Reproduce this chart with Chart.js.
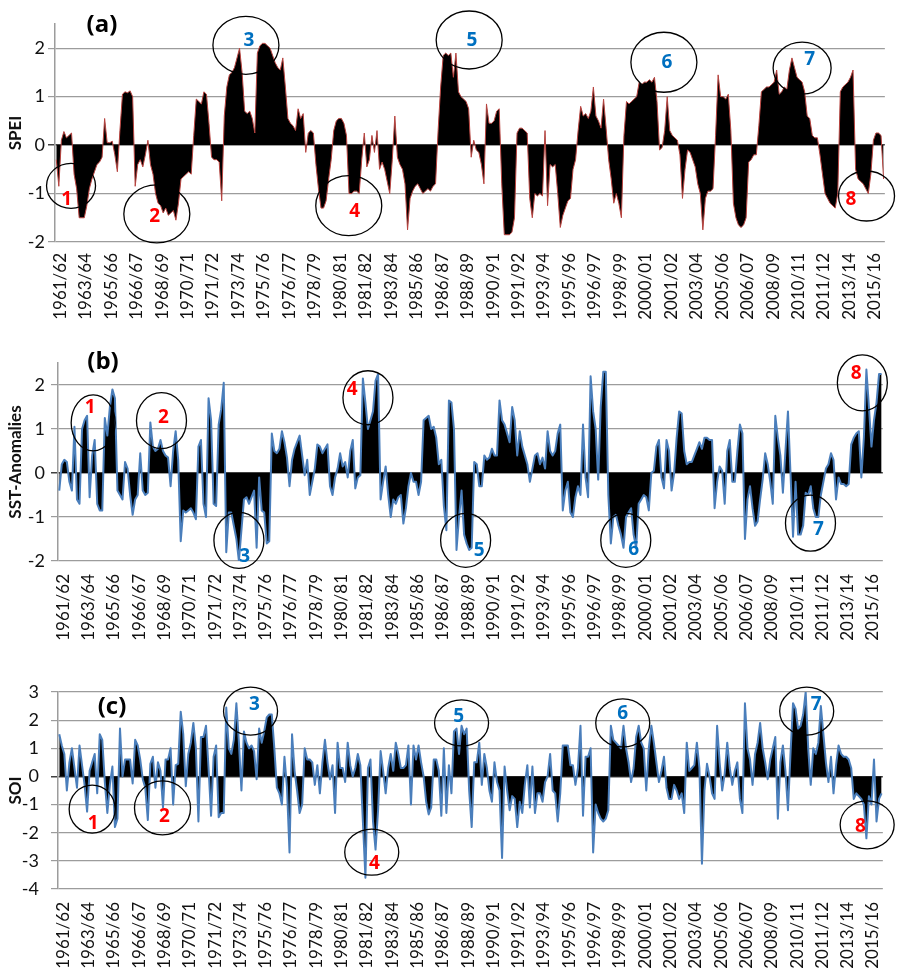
<!DOCTYPE html>
<html>
<head>
<meta charset="utf-8">
<script src="https://cdn.jsdelivr.net/npm/chart.js@4.4.1/dist/chart.umd.min.js"></script>
<style>
  html, body { margin: 0; padding: 0; background: #fff; }
  body { width: 915px; height: 973px; position: relative; overflow: hidden; }
  canvas { position: absolute; left: 0; }
</style>
</head>
<body>
<canvas id="panelA" width="915" height="326" style="top:0px"></canvas>
<canvas id="panelB" width="915" height="322" style="top:326px"></canvas>
<canvas id="panelC" width="915" height="325" style="top:648px"></canvas>
<script>
// Season labels shown on the time axis (one every ten bi-monthly steps)
const seasons = ['1961/62','1963/64','1965/66','1966/67','1968/69','1970/71','1971/72','1973/74',
  '1975/76','1976/77','1978/79','1980/81','1981/82','1983/84','1985/86','1986/87','1988/89',
  '1990/91','1991/92','1993/94','1995/96','1996/97','1998/99','2000/01','2001/02','2003/04',
  '2005/06','2006/07','2008/09','2010/11','2011/12','2013/14','2015/16'];

// (a) SPEI, bi-monthly steps
const spei = [
  -0.3,-0.85,0.1,0.28,0.15,0.2,0.25,-0.6,-0.9,-1.5,
  -1.5,-1.5,-1.25,-0.9,-0.7,-0.55,-0.4,-0.35,-0.25,0.55,
  0.05,0.05,0.08,-0.2,-0.55,0.3,1.05,1.1,1.08,1.12,
  1.0,-0.85,-0.4,-0.3,-0.45,-0.2,0.1,-0.4,-0.6,-1.0,
  -1.2,-1.25,-1.4,-1.3,-1.45,-1.4,-1.35,-1.55,-1.2,-0.7,
  -0.65,-0.6,-0.55,-0.6,0.2,0.95,0.9,0.85,1.1,1.05,
  0.45,-0.25,-0.3,-0.3,-0.35,-1.15,0.6,1.2,1.45,1.5,
  1.6,1.8,2.0,1.5,0.7,0.65,0.7,0.55,0.25,1.9,
  2.05,2.1,2.1,2.05,2.0,1.85,1.7,1.6,1.55,1.8,
  1.2,0.55,0.45,0.4,0.3,0.75,0.55,0.65,-0.15,0.25,
  0.3,0.25,-0.4,-0.9,-1.3,-1.3,-1.15,-0.7,-0.3,0.3,
  0.5,0.55,0.55,0.45,0.2,-1.0,-1.0,-0.95,-0.95,-1.0,
  -0.3,0.25,-0.45,-0.3,0.2,-0.15,0.3,-0.5,-0.35,-0.5,
  -0.75,-1.0,-0.3,0.6,-0.25,-0.4,-0.5,-0.8,-1.75,-1.1,
  -0.95,-0.85,-0.8,-0.9,-1.0,-0.95,-0.9,-0.95,-0.85,-0.8,
  0.3,1.2,1.85,1.9,1.85,1.9,1.4,1.9,1.1,1.0,
  0.95,0.9,0.75,-0.25,0.1,-0.1,-0.15,-0.4,-0.8,0.85,
  0.45,0.45,0.5,0.7,0.75,-0.8,-1.85,-1.85,-1.85,-1.8,
  -1.5,0.25,0.35,0.35,0.3,0.25,-1.1,-1.5,-1.0,-1.05,
  -1.0,-1.05,0.3,-1.25,-0.4,-0.45,-0.4,-1.0,-1.7,-1.45,
  -1.3,-1.15,-1.1,-0.5,-0.3,0.3,0.8,0.6,0.65,0.55,
  0.7,1.2,0.6,0.5,0.35,0.95,0.35,-0.3,-0.7,-1.2,
  -1.0,-1.2,-1.5,0.2,0.9,0.85,0.9,0.95,1.0,1.3,
  1.25,1.3,1.3,1.35,1.3,1.4,0.9,-0.1,-0.05,0.3,
  1.0,0.3,0.2,0.15,0.1,-0.2,-1.1,-0.5,-0.1,-0.15,
  -0.3,-0.45,-0.8,-1.0,-1.75,-1.1,-0.95,-0.95,-0.9,0.2,
  1.45,1.0,1.0,0.95,1.05,0.3,-1.2,-1.5,-1.65,-1.7,
  -1.65,-1.5,-0.35,-0.3,-0.2,-0.2,0.4,1.1,1.15,1.2,
  1.2,1.25,1.3,1.55,1.05,1.1,1.2,1.15,1.55,1.8,
  1.6,1.4,1.35,1.3,1.1,0.6,0.55,0.2,0.15,0.15,
  -0.2,-0.6,-1.0,-1.1,-1.2,-1.25,-1.3,-1.0,1.1,1.2,
  1.25,1.3,1.4,1.55,-0.5,-0.7,-0.75,-0.8,-0.9,-1.0,
  -0.6,0.1,0.25,0.25,0.2,-0.7
];

// (b) SST anomalies, bi-monthly steps
const sst = [
  -0.4,0.2,0.3,0.25,-0.2,-0.4,1.05,-0.6,-0.7,1.0,
  1.2,1.3,-0.55,0.4,0.75,-0.7,-0.85,-0.85,1.25,0.85,
  1.5,1.9,1.7,-0.4,-0.5,-0.6,0.25,0.1,-0.5,-0.95,
  -0.6,-0.5,0.45,-0.4,-0.5,-0.45,1.15,0.6,0.5,0.55,
  0.75,0.5,0.4,0.35,-0.3,0.5,0.95,0.3,-1.55,-0.85,
  -0.9,-0.85,-0.8,-0.9,-1.05,0.6,0.75,-0.7,-1.0,1.7,
  1.2,-0.7,-0.75,1.1,1.45,2.05,-1.8,-0.9,-0.9,-1.2,
  -1.5,-2.0,-1.3,-0.6,-0.55,-0.7,-0.55,-0.4,-1.7,-0.1,
  -0.85,-0.9,-1.6,-1.55,0.9,0.5,0.45,0.55,0.95,0.7,
  0.35,-0.3,0.3,0.55,0.7,0.85,0.4,-0.05,0.3,-0.5,
  -0.2,0.1,0.65,0.6,0.45,0.55,0.65,-0.3,-0.5,-0.1,
  0.1,0.45,0.15,0.25,-0.1,0.5,0.75,-0.35,-0.1,-0.05,
  2.15,1.6,1.0,1.2,1.4,2.1,2.25,-0.6,-0.2,0.15,
  -0.5,-1.0,-0.6,-0.7,-0.55,-0.5,-1.15,-0.8,-0.3,0.0,
  -0.2,-0.2,-0.5,-0.2,1.2,1.25,1.3,1.0,1.05,0.8,
  0.2,0.3,-0.75,-1.3,1.65,1.6,1.0,-1.75,-1.0,-0.4,
  -1.4,-1.6,-1.75,-1.7,0.25,0.2,-0.3,-0.3,0.4,0.3,
  0.35,0.55,0.4,0.4,1.65,1.2,1.1,0.9,0.7,1.5,
  1.2,0.4,0.95,0.6,0.4,0.2,-0.2,0.1,0.4,0.45,
  0.2,0.35,0.1,0.95,0.5,0.4,0.5,0.9,1.1,-0.85,
  -0.4,-0.2,-0.9,-1.0,-0.55,-0.3,-0.5,1.1,-0.1,-0.55,
  2.2,1.4,1.0,-0.15,1.5,2.3,2.3,-0.5,-1.6,-1.0,
  -0.95,-1.2,-1.4,-1.7,-1.0,-0.9,-0.8,-1.4,-1.7,-0.7,
  -0.6,-0.5,-0.55,-0.85,0.0,0.05,0.6,0.75,-0.1,-0.35,
  0.75,0.5,-0.4,0.0,0.8,1.4,1.35,0.5,0.2,0.25,
  0.25,0.4,0.55,0.7,0.55,0.8,0.8,0.75,0.75,-0.8,
  -0.2,0.15,0.05,-0.7,0.5,0.75,-0.2,-0.2,0.5,1.1,
  0.9,-1.5,-0.6,-0.3,-0.8,-1.2,-1.1,-0.6,-0.15,0.45,
  0.2,-0.2,-0.7,1.3,0.8,0.4,-0.45,0.5,1.4,0.0,
  -1.45,-0.2,-1.4,-1.4,-1.2,-0.45,-0.5,-0.3,-0.8,-1.0,
  -1.0,-0.5,-0.2,0.1,0.2,0.45,0.3,-0.6,-0.1,-0.25,
  -0.25,-0.3,-0.25,0.65,0.8,0.9,0.95,-0.1,0.8,2.35,
  1.5,0.6,1.2,1.6,2.25,2.25
];

// (c) SOI, bi-monthly steps
const soi = [
  1.5,1.1,0.8,-0.5,0.5,1.0,0.3,-0.4,1.1,0.4,
  -0.3,-1.25,0.2,0.5,0.8,-0.6,1.5,1.3,-0.2,-1.3,
  -0.3,0.35,-1.8,-1.5,1.7,0.0,0.6,0.6,0.6,-0.25,
  1.3,1.1,0.6,-0.1,-0.4,-1.55,0.45,0.7,-0.4,0.5,
  0.2,-1.1,0.6,0.6,1.0,-1.0,0.4,0.45,2.3,1.5,
  -0.35,0.8,1.2,1.9,1.0,-1.6,1.4,1.4,1.8,0.3,
  -1.4,0.7,1.1,-1.45,-1.3,-1.3,2.45,1.0,0.8,1.3,
  2.6,1.2,-0.5,1.6,1.2,1.0,1.1,0.9,-0.1,1.7,
  1.2,1.6,2.1,2.2,2.2,1.0,-0.4,-0.6,-1.0,0.7,
  -0.4,-2.7,1.5,0.2,-0.5,-1.3,-1.0,1.0,0.6,0.6,
  0.5,-0.3,0.4,-0.6,0.5,1.3,0.5,-0.1,0.4,-1.3,
  1.2,0.3,0.3,-0.2,1.2,0.4,0.0,0.3,0.8,0.4,
  -1.6,-3.6,0.3,0.6,-1.6,-2.6,-1.2,0.9,0.2,-0.6,
  0.3,0.8,0.2,1.2,0.8,0.3,0.3,0.4,1.1,-1.0,
  1.1,0.6,1.1,0.5,0.0,-0.9,-1.35,-1.1,0.6,0.6,
  0.2,-1.4,1.0,-1.3,0.4,-0.6,1.6,1.7,0.8,1.8,
  1.5,1.7,-0.5,-1.8,0.5,0.5,1.2,-0.3,0.8,0.3,
  -0.5,-0.9,0.5,-0.2,-0.5,-2.9,0.35,-0.5,-1.2,-0.7,
  -0.8,-1.8,-0.9,-1.3,-0.3,0.4,-1.1,0.35,-1.3,-0.6,
  -0.6,-0.9,-0.2,0.0,0.8,-0.5,-0.6,-1.6,-0.6,1.1,
  1.1,1.1,0.4,0.4,-0.3,0.3,1.8,-1.4,0.7,0.7,
  1.0,-2.7,-1.0,-1.3,-1.5,-1.6,-1.5,-1.2,1.8,1.3,
  1.2,1.1,1.0,1.8,1.0,0.5,-0.2,0.3,1.4,1.8,
  1.2,1.0,-0.5,1.0,1.8,1.2,0.5,-0.2,0.2,0.7,
  -0.4,-0.8,-0.8,-0.3,-0.5,-0.8,-0.6,-1.3,1.2,0.2,
  0.3,0.4,1.2,0.3,-3.1,-0.5,0.45,0.0,-0.6,-0.8,
  1.8,0.5,-0.5,0.1,1.2,0.3,-0.3,0.2,0.5,-0.8,
  -1.3,2.6,1.0,0.6,-0.3,0.8,1.2,1.9,1.0,0.5,
  -0.1,0.6,1.0,1.4,-1.5,0.5,1.1,0.2,-1.2,0.8,
  2.6,2.4,1.7,1.8,2.2,3.0,1.0,-0.3,1.0,0.8,
  1.2,2.5,1.5,0.5,-0.2,0.7,-0.6,0.4,1.1,0.8,
  0.7,0.7,0.6,0.3,-0.8,-0.6,-0.7,-0.8,-1.0,-2.2,
  -0.7,-1.0,0.6,-1.6,-0.8,-0.6
];

// Numbered events circled on each panel
const eventIds = ['1','2','3','4','5','6','7','8'];
const speiEventType = ['dry','dry','wet','dry','wet','wet','wet','dry'];
const sstEventType  = ['dry','dry','wet','dry','wet','wet','wet','dry'];
const soiEventType  = ['dry','dry','wet','dry','wet','wet','wet','dry'];

// One category per bi-monthly step; a season name every tenth step
const STEP = 10;
const categories = spei.map((_, i) => (i % STEP === 0 && seasons[i / STEP]) ? seasons[i / STEP] : '');

const FONT = 'Lato, "Open Sans", "Liberation Sans", sans-serif';
const MARK_FONT = '"Open Sans", "Liberation Sans", sans-serif';
const EVENT_COLORS = { dry: '#ff0000', wet: '#0070c0' };

// Draws the ellipses, event numbers and the panel letter on top of the series
const eventMarks = {
  id: 'eventMarks',
  afterDatasetsDraw(chart, args, opts) {
    const ctx = chart.ctx;
    const xs = chart.scales.x, ys = chart.scales.y;
    ctx.save();
    (opts.items || []).forEach((m, k) => {
      const cx = xs.getPixelForValue(m.c[0]);
      const cy = ys.getPixelForValue(m.c[1]);
      ctx.beginPath();
      ctx.ellipse(cx, cy, m.r[0], m.r[1], 0, 0, Math.PI * 2);
      ctx.lineWidth = 1.3;
      ctx.strokeStyle = '#000';
      ctx.stroke();
      ctx.font = 'bold 19px ' + MARK_FONT;
      ctx.textAlign = 'center';
      ctx.textBaseline = 'middle';
      ctx.fillStyle = EVENT_COLORS[opts.types[k]];
      ctx.fillText(eventIds[k], xs.getPixelForValue(m.t[0]), ys.getPixelForValue(m.t[1]));
    });
    if (opts.letter) {
      ctx.font = 'bold 24px ' + MARK_FONT;
      ctx.fillStyle = '#000';
      ctx.textAlign = 'center';
      ctx.textBaseline = 'middle';
      ctx.fillText(opts.letter.text, opts.letter.x, opts.letter.y);
    }
    ctx.restore();
  }
};

function makePanel(id, cfg) {
  const canvas = document.getElementById(id);
  const H = canvas.height;
  return new Chart(canvas, {
    type: 'line',
    data: {
      labels: categories,
      datasets: [{
        data: cfg.values,
        fill: 'origin',
        backgroundColor: '#000',
        borderColor: cfg.lineColor,
        borderWidth: cfg.lineWidth,
        borderJoinStyle: 'round',
        pointRadius: 0,
        tension: 0
      }]
    },
    options: {
      responsive: false,
      animation: false,
      devicePixelRatio: 1,
      layout: { padding: { top: cfg.top, right: 13, left: 0, bottom: 0 } },
      plugins: {
        legend: { display: false },
        tooltip: { enabled: false },
        eventMarks: { items: cfg.marks, types: cfg.types, letter: cfg.letter }
      },
      scales: {
        x: {
          type: 'category',
          offset: true,
          grid: { display: false, drawTicks: false },
          border: { display: false },
          ticks: {
            autoSkip: false,
            minRotation: 90,
            maxRotation: 90,
            padding: cfg.xPad,
            labelOffset: 4,
            color: '#111',
            font: { family: FONT, size: 17 },
            callback: (v, i) => categories[i]
          },
          afterFit: s => { s.height = H - cfg.bottom; }
        },
        y: {
          min: cfg.min,
          max: cfg.max,
          afterBuildTicks: s => { s.ticks = s.ticks.filter(t => Number.isInteger(t.value)); },
          ticks: {
            stepSize: 1,
            color: '#111',
            padding: cfg.yPad,
            font: { family: FONT, size: 18 }
          },
          grid: {
            color: c => (c.tick && c.tick.value === 0) ? '#404040' : '#9c9c9c',
            lineWidth: c => (c.tick && c.tick.value === 0) ? 1.5 : 1.2,
            drawTicks: true,
            tickLength: 7
          },
          border: { display: true, color: '#9c9c9c', width: 1.5 },
          title: {
            display: true,
            text: cfg.title,
            color: '#111',
            font: { family: FONT, size: 17, weight: 'bold' },
            padding: { top: 5, bottom: 0 }
          },
          afterFit: s => { s.width = cfg.left; }
        }
      }
    },
    plugins: [eventMarks]
  });
}

makePanel('panelA', {
  values: spei, title: 'SPEI', min: -2, max: 2.5,
  top: 24, bottom: 242, left: 55, xPad: 11, yPad: 3,
  lineColor: '#b8433f', lineWidth: 1,
  types: speiEventType,
  letter: { text: '(a)', x: 102, y: 25 },
  marks: [
    { c: [5.8, -0.84],  r: [24.5, 22.5], t: [4.1, -1.13] },
    { c: [39.5, -1.42], r: [33, 29],     t: [38.7, -1.48] },
    { c: [74.5, 2.06],  r: [33, 29],     t: [75.7, 2.15] },
    { c: [114.9, -1.25],r: [33, 30],     t: [117.2, -1.38] },
    { c: [162.2, 2.17], r: [33, 29],     t: [163.3, 2.15] },
    { c: [238.7, 1.71], r: [33, 30],     t: [239.9, 1.71] },
    { c: [293, 1.59],   r: [29, 26],     t: [296, 1.76] },
    { c: [318.3, -1.05],r: [28, 25],     t: [312.2, -1.13] }
  ]
});

makePanel('panelB', {
  values: sst, title: 'SST-Anomalies', min: -2, max: 2.5,
  top: 37, bottom: 235, left: 58, xPad: 13, yPad: 6,
  lineColor: '#4a7ebb', lineWidth: 2,
  types: sstEventType,
  letter: { text: '(b)', x: 103, y: 36 },
  marks: [
    { c: [13.4, 1.14],  r: [22, 28], t: [12.2, 1.48] },
    { c: [40.4, 1.19],  r: [25, 28], t: [41.2, 1.25] },
    { c: [71, -1.53],   r: [25, 28], t: [73.3, -1.91] },
    { c: [122, 1.71],   r: [25, 27], t: [115.8, 1.89] },
    { c: [160.6, -1.53],r: [25, 27], t: [166, -1.77] },
    { c: [223.9, -1.53],r: [25, 27], t: [227, -1.75] },
    { c: [296.9, -1.14],r: [25, 28], t: [300, -1.28] },
    { c: [317.4, 2.05], r: [25, 28], t: [315, 2.25] }
  ]
});

makePanel('panelC', {
  values: soi, title: 'SOI', min: -4, max: 3,
  top: 44, bottom: 241, left: 58, xPad: 13, yPad: 12,
  lineColor: '#4a7ebb', lineWidth: 2,
  types: soiEventType,
  letter: { text: '(c)', x: 112, y: 59 },
  marks: [
    { c: [13, -1.16],   r: [23, 24], t: [13.4, -1.66] },
    { c: [40.8, -1.12], r: [28, 27], t: [41.6, -1.44] },
    { c: [75.6, 2.32],  r: [27, 24], t: [77.1, 2.54] },
    { c: [123.5, -2.69],r: [27, 23], t: [124.6, -3.08] },
    { c: [159, 1.9],    r: [27, 23], t: [157.9, 2.11] },
    { c: [222.7, 1.9],  r: [27, 24], t: [222.7, 2.22] },
    { c: [295.4, 2.32], r: [27, 24], t: [299.2, 2.54] },
    { c: [319.3, -1.72],r: [27, 24], t: [316.6, -1.8] }
  ]
});
</script>
</body>
</html>
